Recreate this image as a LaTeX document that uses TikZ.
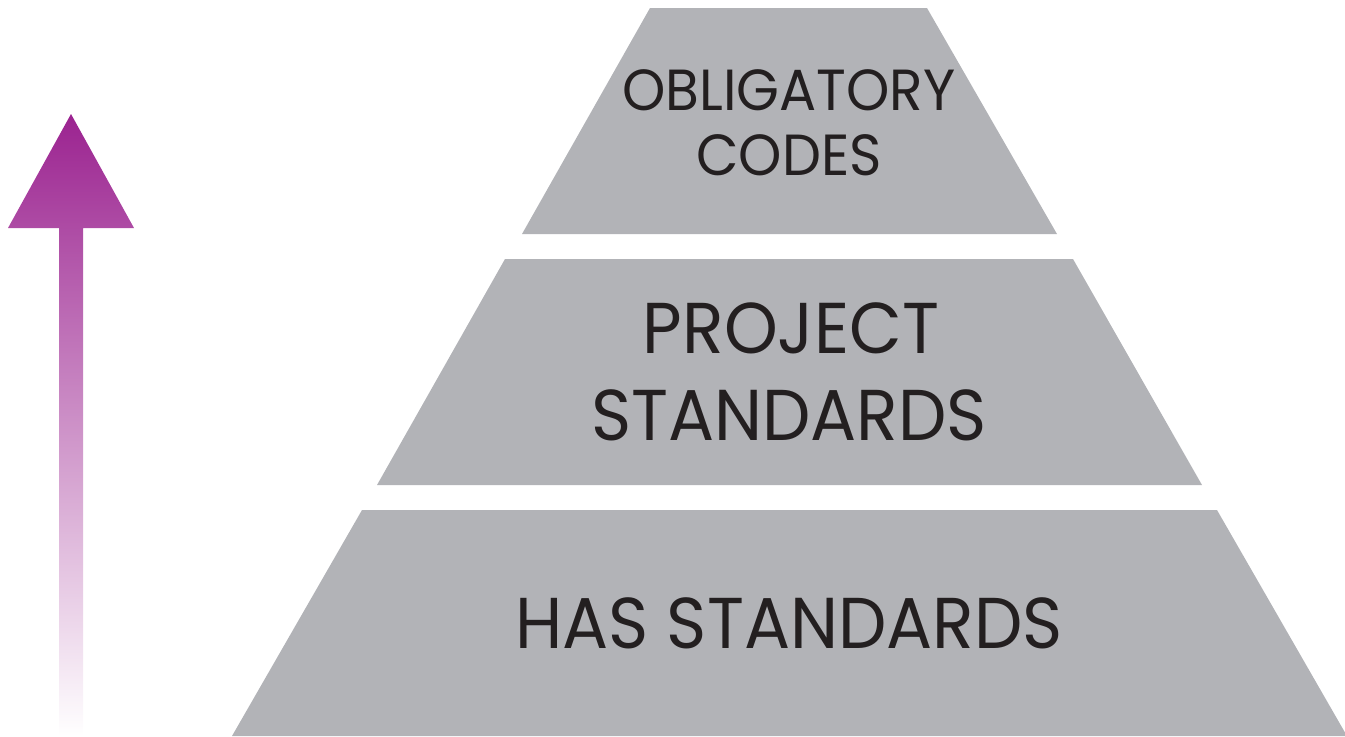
\documentclass[tikz,border=0pt]{standalone}
\usepackage{fontspec}
\setmainfont[FakeStretch=0.95]{Poppins}
\definecolor{tiergray}{HTML}{B2B3B7}
\definecolor{txt}{HTML}{231F20}
\definecolor{arrowtop}{HTML}{9B2390}
\tikzset{
  tier/.style={fill=tiergray, draw=none},
  lbl/.style={text=txt, anchor=base, inner sep=0pt, font=\fontsize{36}{36}\selectfont},
  lblsmall/.style={text=txt, anchor=base, inner sep=0pt, font=\fontsize{29}{29}\selectfont},
}
\begin{document}
\begin{tikzpicture}[x=0.5pt, y=-0.5pt]
\useasboundingbox (0,0) rectangle (1345,736);
% arrow
\shade[top color=arrowtop, bottom color=white, middle color=arrowtop!50!white]
  (71,114) -- (134,228) -- (83,228) -- (83,736) -- (59,736) -- (59,228) -- (8,228) -- cycle;
% tiers
\fill[tier] (650,8) -- (927,8) -- (1057,234) -- (522,234) -- cycle;
\fill[tier] (505,259) -- (1073,259) -- (1202,485) -- (377,485) -- cycle;
\fill[tier] (362,510) -- (1217,510) -- (1347,736) -- (232,736) -- cycle;
% labels
\node[lblsmall] (t1) at (789,110) {OBLIGATORY};
\node[lblsmall] (t2) at (789,175) {CODES};
\node[lbl] (m1) at (791,353) {PROJECT};
\node[lbl] (m2) at (789,440) {STANDARDS};
\node[lbl] (b1) at (789,648) {HAS STANDARDS};
\end{tikzpicture}
\end{document}
